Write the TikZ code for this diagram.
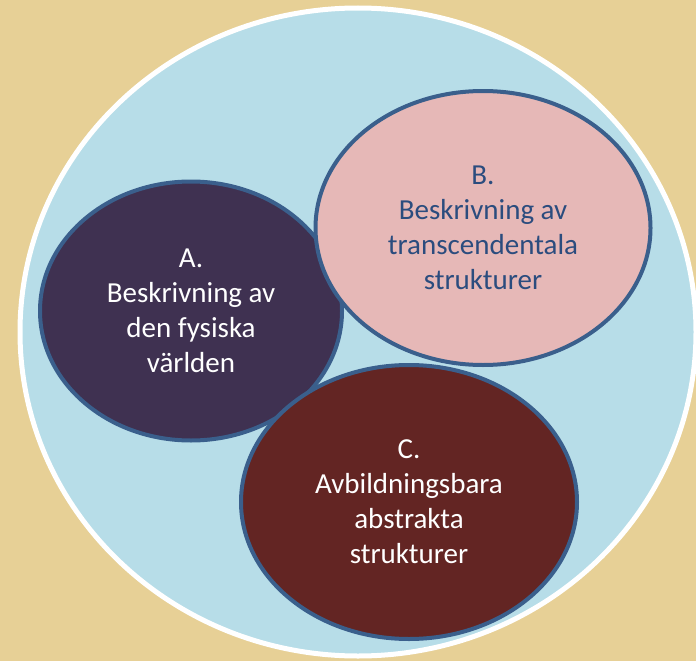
\documentclass[tikz,border=0pt]{standalone}
\usepackage{fontspec}
\setmainfont{Carlito}
\usetikzlibrary{shapes.geometric}

\definecolor{parchment}{HTML}{E7D096}
\definecolor{skyfill}{HTML}{B7DDE8}
\definecolor{rimblue}{HTML}{3A5F8C}
\definecolor{plum}{HTML}{3F3151}
\definecolor{rose}{HTML}{E6B8B7}
\definecolor{maroon}{HTML}{632523}
\definecolor{inkblue}{HTML}{2B4C7E}

\begin{document}
\begin{tikzpicture}[
    x=1pt, y=-1pt,
    blob/.style={ellipse, draw=rimblue, line width=4pt, fill=#1,
        inner sep=0pt, align=center, font=\fontsize{29}{35}\selectfont},
]

\useasboundingbox (0,0) rectangle (696,661);
\fill[parchment] (0,0) rectangle (696,661);

% outer field
\draw[white, line width=5pt, fill=skyfill] (358,332) ellipse [x radius=338, y radius=324];

\node[blob=plum, text=white, minimum width=302pt, minimum height=259pt] (fysisk) at (191,311)
    {A.\\Beskrivning av\\den fysiska\\världen};

\node[blob=rose, text=inkblue, minimum width=335pt, minimum height=274pt] (transc) at (483,228)
    {B.\\Beskrivning av\\transcendentala\\strukturer};

\node[blob=maroon, text=white, minimum width=336pt, minimum height=274pt] (abstr) at (409,502)
    {C.\\Avbildningsbara\\abstrakta\\strukturer};

\end{tikzpicture}
\end{document}
